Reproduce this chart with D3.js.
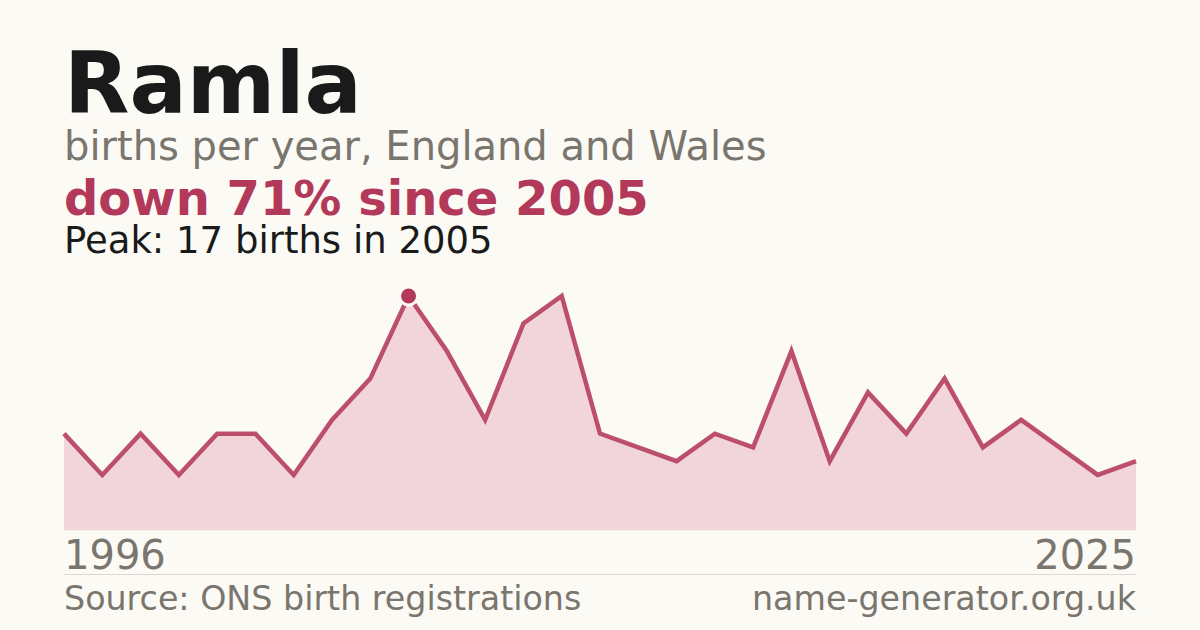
<!DOCTYPE html>
<html>
<head>
<meta charset="utf-8">
<script src="https://cdn.jsdelivr.net/npm/d3@7"></script>
<style>
  html, body { margin: 0; padding: 0; background: #fbfaf5; }
  svg { display: block; font-family: "DejaVu Sans", sans-serif; }
</style>
</head>
<body>
<div id="chart"></div>
<script>
// data
const years = d3.range(1996, 2025);
const births = [7, 4, 7, 4, 7, 7, 4, 8, 11, 17, 13, 8, 15, 17, 7, 6, 5, 7, 6, 13, 5, 10, 7, 11, 6, 8, 6, 4, 5];
const tickLabels = ["1996", "2025"];

const title = "Ramla";
const subtitle = "births per year, England and Wales";
const headline = "down 71% since 2005";
const peakNote = "Peak: 17 births in 2005";
const source = "Source: ONS birth registrations";
const site = "name-generator.org.uk";

const width = 1200, height = 630;
const plotLeft = 64, plotRight = 1136, plotTop = 296, plotBottom = 530;
const accent = "#b3395a";

const svg = d3.select("#chart").append("svg")
    .attr("width", width)
    .attr("height", height);

svg.append("rect").attr("width", width).attr("height", height).attr("fill", "#fbfaf5");

const data = years.map((yr, i) => ({year: yr, v: births[i]}));

const x = d3.scalePoint().domain(years).range([plotLeft, plotRight]);
const y = d3.scaleLinear().domain([0, d3.max(births)]).range([plotBottom, plotTop]);

// headings
svg.append("text").attr("x", plotLeft).attr("y", 113)
    .attr("font-size", 85).attr("font-weight", "bold").attr("fill", "#1a1a1a")
    .text(title);
svg.append("text").attr("x", plotLeft).attr("y", 160)
    .attr("font-size", 40).attr("fill", "#7a756d")
    .text(subtitle);
svg.append("text").attr("x", plotLeft).attr("y", 215)
    .attr("font-size", 48).attr("font-weight", "bold").attr("fill", accent)
    .text(headline);
svg.append("text").attr("x", plotLeft).attr("y", 253)
    .attr("font-size", 37).attr("fill", "#1a1a1a")
    .text(peakNote);

// area + line
const area = d3.area()
    .x(d => x(d.year))
    .y0(y(0))
    .y1(d => y(d.v));
const line = d3.line()
    .x(d => x(d.year))
    .y(d => y(d.v));

svg.append("path").datum(data)
    .attr("d", area)
    .attr("fill", "#f2d5db");

svg.append("line")
    .attr("x1", plotLeft).attr("x2", plotRight)
    .attr("y1", y(0)).attr("y2", y(0))
    .attr("stroke", "#e4dfd8").attr("stroke-width", 1);

svg.append("path").datum(data)
    .attr("d", line)
    .attr("fill", "none")
    .attr("stroke", accent)
    .attr("stroke-opacity", 0.88)
    .attr("stroke-width", 4.5)
    .attr("stroke-linejoin", "miter");

// peak marker (first max)
const peak = data[d3.maxIndex(data, d => d.v)];
svg.append("circle")
    .attr("cx", x(peak.year)).attr("cy", y(peak.v))
    .attr("r", 9)
    .attr("fill", accent)
    .attr("stroke", "#fbfaf5")
    .attr("stroke-width", 3);

// end labels
svg.append("text").attr("x", plotLeft).attr("y", 569)
    .attr("font-size", 40).attr("fill", "#7a756d")
    .text(tickLabels[0]);
svg.append("text").attr("x", plotRight).attr("y", 569)
    .attr("text-anchor", "end")
    .attr("font-size", 40).attr("fill", "#7a756d")
    .text(tickLabels[1]);

svg.append("line")
    .attr("x1", plotLeft).attr("x2", plotRight)
    .attr("y1", 574.5).attr("y2", 574.5)
    .attr("stroke", "#ddd8d0").attr("stroke-width", 1);

// footer
svg.append("text").attr("x", plotLeft).attr("y", 610)
    .attr("font-size", 33.3).attr("fill", "#7a756d")
    .text(source);
svg.append("text").attr("x", plotRight).attr("y", 610)
    .attr("text-anchor", "end")
    .attr("font-size", 33.3).attr("fill", "#7a756d")
    .text(site);
</script>
</body>
</html>
